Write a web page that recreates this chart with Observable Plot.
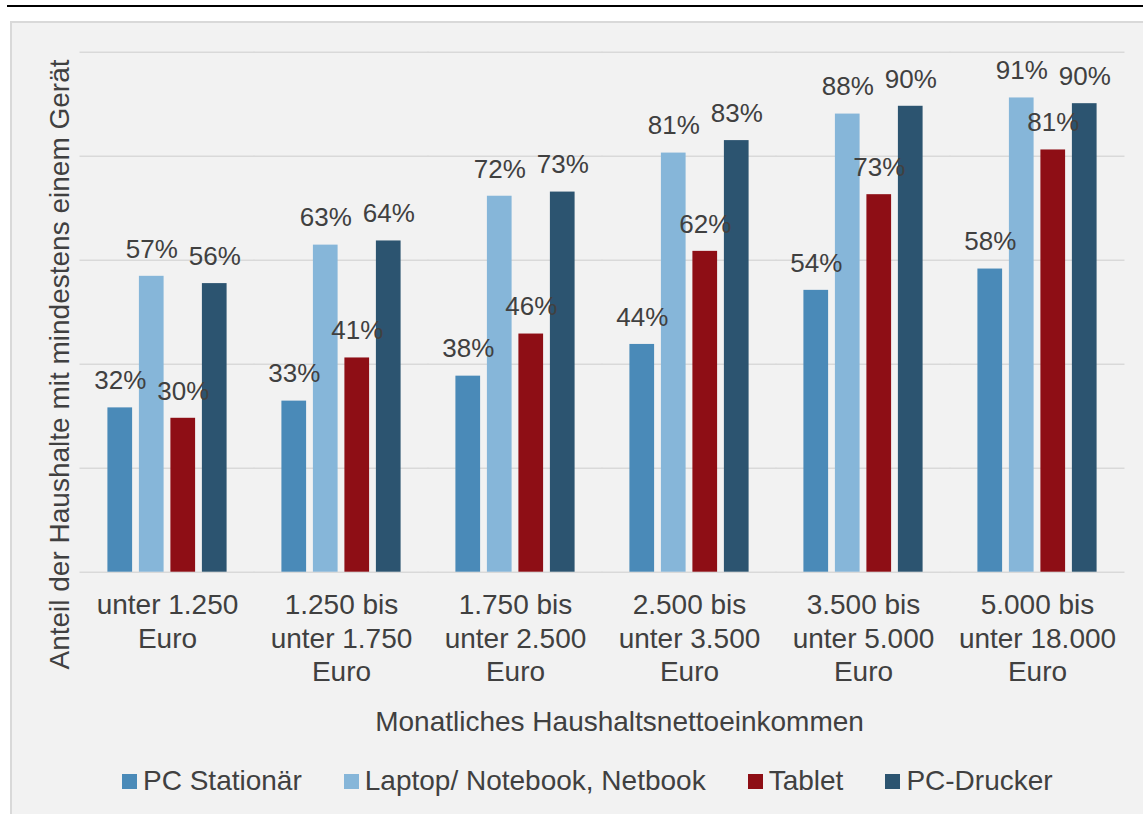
<!DOCTYPE html>
<html>
<head>
<meta charset="utf-8">
<script src="https://cdn.jsdelivr.net/npm/d3@7"></script>
<script src="https://cdn.jsdelivr.net/npm/@observablehq/plot@0.6"></script>
<style>
  html, body { margin: 0; padding: 0; background: #ffffff; }
  body { width: 1143px; height: 814px; position: relative; overflow: hidden;
         font-family: "Liberation Sans", Arial, sans-serif; color: #404040; }
  #topline { position: absolute; left: 7px; right: 0; top: 5px; height: 2px; background: #000; }
  #panel { position: absolute; left: 10px; top: 21px; right: -10px; bottom: -10px;
           background: #f2f2f2; border-left: 2px solid #d9d9d9; border-top: 2px solid #d9d9d9; }
  #chart { position: absolute; left: 0; top: 0; }
  #legend { position: absolute; left: 122px; top: 761px; height: 40px; line-height: 40px;
            font-size: 28px; display: flex; white-space: nowrap; }
  #legend .item { display: flex; align-items: center; margin-right: 42px; }
  #legend .sw { width: 15px; height: 15px; margin-right: 6px; }
</style>
</head>
<body>
<div id="topline"></div>
<div id="panel"></div>
<div id="chart"></div>
<div id="legend"></div>
<script>
const categories = ["unter 1.250 Euro", "1.250 bis unter 1.750 Euro", "1.750 bis unter 2.500 Euro",
  "2.500 bis unter 3.500 Euro", "3.500 bis unter 5.000 Euro", "5.000 bis unter 18.000 Euro"];
const tickLabels = ["unter 1.250\nEuro", "1.250 bis\nunter 1.750\nEuro", "1.750 bis\nunter 2.500\nEuro",
  "2.500 bis\nunter 3.500\nEuro", "3.500 bis\nunter 5.000\nEuro", "5.000 bis\nunter 18.000\nEuro"];
const seriesNames = ["PC Stationär", "Laptop/ Notebook, Netbook", "Tablet", "PC-Drucker"];
const seriesColors = ["#4a8ab8", "#86b6d9", "#8e0e15", "#2c5470"];
const pcStationaer = [31.6, 32.9, 37.7, 43.8, 54.2, 58.3];
const laptop = [56.9, 62.9, 72.3, 80.6, 88.1, 91.2];
const tablet = [29.6, 41.2, 45.8, 61.7, 72.6, 81.2];
const pcDrucker = [55.5, 63.7, 73.1, 83.0, 89.6, 90.1];
const gridValues = [0, 20, 40, 60, 80, 100];
const xTitle = "Monatliches Haushaltsnettoeinkommen";
const yTitle = "Anteil der Haushalte mit mindestens einem Gerät";

const seriesValues = [pcStationaer, laptop, tablet, pcDrucker];
const data = [];
categories.forEach((c, i) => {
  seriesNames.forEach((s, j) => data.push({cat: c, series: s, value: seriesValues[j][i]}));
});

const FONT = '"Liberation Sans", Arial, sans-serif';
const TEXT = "#404040";
const FX_PAD_INNER = 0.315, FX_PAD_OUTER = 0.1575;
const PLOT_W = 1143 - 80 - 19;
const fxStep = PLOT_W / (categories.length - FX_PAD_INNER + 2 * FX_PAD_OUTER);
const gridExtend = -fxStep * FX_PAD_INNER / 2 - 0.5;

const chart = Plot.plot({
  width: 1143,
  height: 745,
  marginLeft: 80,
  marginRight: 19,
  marginTop: 51.7,
  marginBottom: 173.3,
  style: {background: "transparent", fontFamily: FONT, color: TEXT, overflow: "visible"},
  fx: {domain: categories, paddingInner: FX_PAD_INNER, paddingOuter: FX_PAD_OUTER, round: false, label: null},
  x: {domain: seriesNames, paddingInner: 0.216, paddingOuter: 0, round: false, axis: null},
  y: {domain: [0, 100], axis: null},
  color: {domain: seriesNames, range: seriesColors},
  marks: [
    Plot.ruleY(gridValues, {stroke: "#d9d9d9", strokeWidth: 1.5, insetLeft: gridExtend, insetRight: gridExtend}),
    Plot.barY(data, {fx: "cat", x: "series", y: "value", fill: "series"}),
    Plot.text(data, {fx: "cat", x: "series", y: "value", text: d => Math.round(d.value) + "%",
      dy: -27, fontSize: 26, fill: TEXT, lineAnchor: "middle", textAnchor: "middle"}),
    Plot.axisFx({anchor: "bottom", tickSize: 0, tickPadding: 18.5, fontSize: 28, lineHeight: 1.19,
      label: null, fill: TEXT, tickFormat: d => tickLabels[categories.indexOf(d)]}),
    Plot.text([xTitle], {text: d => d, frameAnchor: "bottom", facet: "super", fontSize: 28, fill: TEXT,
      textAnchor: "middle", lineAnchor: "middle", dx: 17, dy: 150}),
    Plot.text([yTitle], {text: d => d, frameAnchor: "left", facet: "super", fontSize: 28, fill: TEXT,
      rotate: -90, textAnchor: "middle", lineAnchor: "middle", dx: -48, dy: 52.3})
  ]
});
document.getElementById("chart").appendChild(chart);

const legend = document.getElementById("legend");
seriesNames.forEach((s, j) => {
  const item = document.createElement("div");
  item.className = "item";
  const sw = document.createElement("span");
  sw.className = "sw";
  sw.style.background = seriesColors[j];
  const lab = document.createElement("span");
  lab.textContent = s;
  item.appendChild(sw);
  item.appendChild(lab);
  legend.appendChild(item);
});
</script>
</body>
</html>
